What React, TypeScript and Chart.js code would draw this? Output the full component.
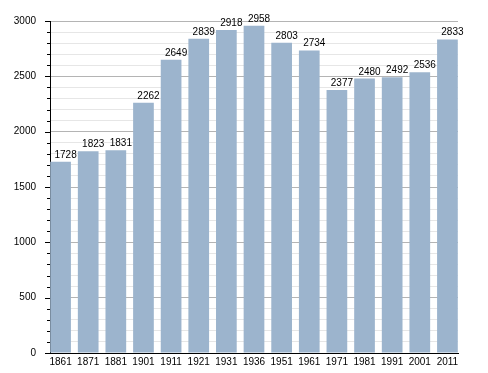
import React, { useEffect, useRef } from "react";
import { Chart, registerables } from "chart.js";

Chart.register(...registerables);

const years = ["1861", "1871", "1881", "1901", "1911", "1921", "1931", "1936", "1951", "1961", "1971", "1981", "1991", "2001", "2011"];
const population = [1728, 1823, 1831, 2262, 2649, 2839, 2918, 2958, 2803, 2734, 2377, 2480, 2492, 2536, 2833];
const yMin = 0;
const yMax = 3000;
const yMinorStep = 100;
const yMajorStep = 500;

const FONT = "'Liberation Sans', Arial, sans-serif";

const stretchX = {
  id: "stretchX",
  afterLayout(chart: any) {
    const x = chart.scales.x;
    const ext = 3.25;
    x._startPixel -= ext;
    x._endPixel += ext;
    x._length += 2 * ext;
  },
};

const yTickMarks = {
  id: "yTickMarks",
  afterDraw(chart: any) {
    const ctx = chart.ctx;
    const y = chart.scales.y;
    const left = chart.chartArea.left;
    ctx.save();
    ctx.strokeStyle = "#000";
    ctx.lineWidth = 1;
    for (let v = yMin; v <= yMax; v += yMinorStep) {
      const py = Math.round(y.getPixelForValue(v)) + 0.5;
      const len = v % yMajorStep === 0 ? 5 : 3;
      ctx.beginPath();
      ctx.moveTo(left - len, py);
      ctx.lineTo(left, py);
      ctx.stroke();
    }
    ctx.restore();
  },
};

const valueLabels = {
  id: "valueLabels",
  afterDatasetsDraw(chart: any) {
    const ctx = chart.ctx;
    const meta = chart.getDatasetMeta(0);
    ctx.save();
    ctx.font = `10px ${FONT}`;
    ctx.fillStyle = "#000";
    ctx.textAlign = "center";
    ctx.textBaseline = "alphabetic";
    meta.data.forEach((bar: any, i: number) => {
      ctx.fillText(String(population[i]), bar.x + 5, bar.y - 4);
    });
    ctx.restore();
  },
};

export default function App() {
  const ref = useRef<HTMLCanvasElement>(null);
  useEffect(() => {
    document.body.style.margin = "0";
    const chart = new Chart(ref.current!, {
      type: "bar",
      data: {
        labels: years,
        datasets: [
          {
            data: population,
            backgroundColor: "#9cb4cd",
            borderWidth: 0,
            barPercentage: 0.749,
            categoryPercentage: 1,
          },
        ],
      },
      options: {
        animation: false,
        responsive: false,
        maintainAspectRatio: false,
        layout: { padding: { left: 0, right: 30, top: 21, bottom: 0 } },
        plugins: { legend: { display: false }, tooltip: { enabled: false } },
        scales: {
          x: {
            grid: { display: false, drawTicks: false },
            border: { display: true, color: "#000", width: 1 },
            ticks: { color: "#000", font: { family: FONT, size: 10 }, padding: 3, maxRotation: 0, autoSkip: false },
            afterFit: (s: any) => { s.height = 20; },
          },
          y: {
            min: yMin,
            max: yMax,
            grid: {
              drawTicks: false,
              color: (c: any) => (c.tick && c.tick.value % yMajorStep === 0 ? "#b4b4b4" : "#e6e6e6"),
            },
            border: { display: true, color: "#000", width: 1 },
            ticks: {
              stepSize: yMinorStep,
              autoSkip: false,
              color: "#000",
              font: { family: FONT, size: 10 },
              padding: 14,
              callback: (v: any) => (Number(v) % yMajorStep === 0 ? String(v) : ""),
            },
            afterFit: (s: any) => { s.width = 50; },
          },
        },
      },
      plugins: [stretchX, yTickMarks, valueLabels],
    });
    return () => chart.destroy();
  }, []);
  return (
    <div style={{ width: 488, height: 373 }}>
      <canvas ref={ref} width={488} height={373} style={{ display: "block" }} />
    </div>
  );
}
